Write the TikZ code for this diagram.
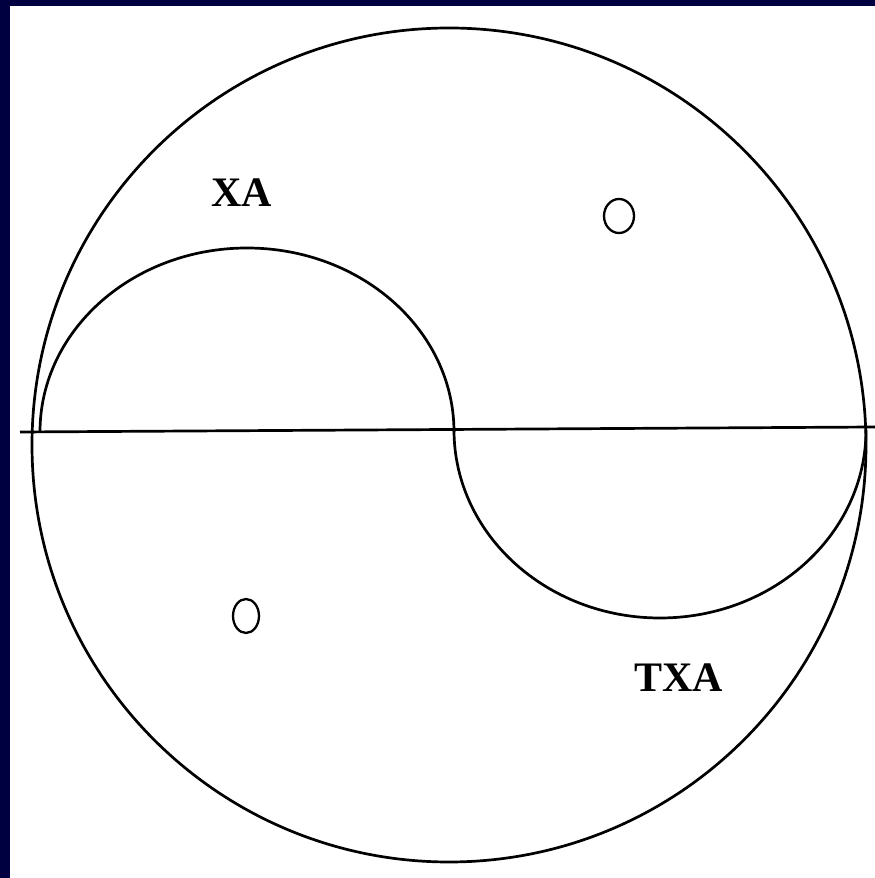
\documentclass[tikz,border=0pt]{standalone}
\usepackage{fontspec}
\setmainfont{Liberation Serif}
\definecolor{navy}{RGB}{0,0,64}
\begin{document}
\begin{tikzpicture}[x=1pt,y=1pt,
  stroke/.style={draw=black,line width=2.7pt},
  lab/.style={font=\bfseries\fontsize{42}{42}\selectfont,inner sep=0pt,anchor=base}]
\useasboundingbox (0,0) rectangle (875,878);
\fill[navy] (0,0) rectangle (875,878);
\fill[white] (10,0) rectangle (875,872);
% outer circle
\draw[stroke] (449,433) circle[radius=417];
% horizontal line
\coordinate (lineL) at (20,446);
\coordinate (lineR) at (875,451);
\draw[stroke] (lineL) -- (lineR);
% upper half ellipse
\draw[stroke] (40,446) arc[start angle=180,end angle=0,x radius=207,y radius=184];
% lower half ellipse
\draw[stroke] (454,448) arc[start angle=180,end angle=360,x radius=206,y radius=188];
% small circles
\draw[stroke,line width=2.3pt] (619,662) ellipse[x radius=15,y radius=17];
\draw[stroke,line width=2.3pt] (246,262) ellipse[x radius=13,y radius=17];
% labels
\node[lab] (xa) at (242,671) {XA};
\node[lab] (txa) at (678.5,186) {TXA};
\end{tikzpicture}
\end{document}
